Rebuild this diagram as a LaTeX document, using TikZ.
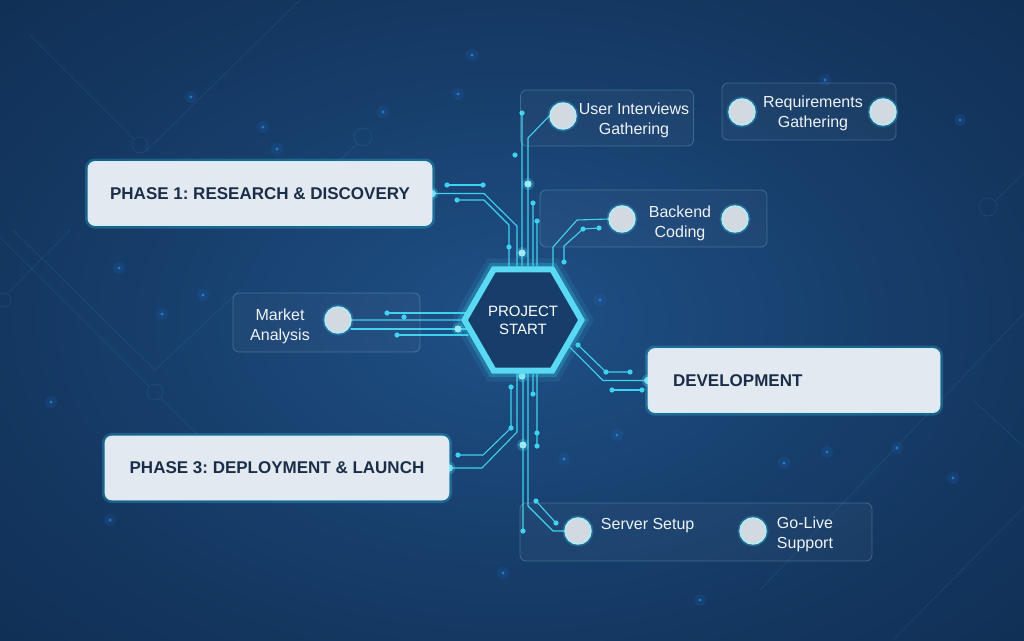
\documentclass[tikz,border=0pt]{standalone}
\usepackage{fontspec}
\setmainfont{Liberation Sans}
\usetikzlibrary{shapes.geometric, positioning, calc}

\definecolor{bgin}{HTML}{1F5086}
\definecolor{bgmid}{HTML}{143862}
\definecolor{bgout}{HTML}{0A1D38}
\definecolor{neon}{HTML}{3DD2F0}
\definecolor{cardfill}{HTML}{E3E9F0}
\definecolor{cardtext}{HTML}{1B2E49}
\definecolor{knobfill}{HTML}{D3D9E0}
\definecolor{softtext}{HTML}{EEF3F8}

\pgfdeclareradialshading{bgglow}{\pgfpoint{0bp}{0bp}}{color(0bp)=(bgin); color(22bp)=(bgmid); color(55bp)=(bgout); color(80bp)=(bgout)}
\pgfdeclarelayer{back}
\pgfdeclarelayer{wires}
\pgfsetlayers{back,wires,main}
\frenchspacing

\begin{document}
\begin{tikzpicture}[
    x=1pt, y=-1pt,
    wire/.style={draw=neon, line width=1.1pt, line cap=round, line join=round},
    ghost/.style={draw=neon!50!bgin, line width=0.8pt, opacity=0.18},
    hexa/.style={regular polygon, regular polygon sides=6, minimum size=117pt, inner sep=0pt,
        draw=neon!85!white, line width=6pt, fill=bgmid!75!bgin, text=white, align=center,
        font=\fontsize{15}{18}\selectfont,
        preaction={draw=neon, line width=22pt, draw opacity=0.10},
        preaction={draw=neon, line width=13pt, draw opacity=0.25}},
    phasebox/.style={rectangle, rounded corners=7pt, fill=cardfill, draw=white!70!neon, line width=0.8pt,
        minimum height=64pt, inner xsep=0pt, text=cardtext,
        font=\bfseries\fontsize{17}{20}\selectfont,
        preaction={draw=neon, line width=6pt, draw opacity=0.25}},
    groupbox/.style={rectangle, rounded corners=6pt, draw=neon!40!white, draw opacity=0.25,
        line width=0.8pt, fill=white, fill opacity=0.03, inner sep=0pt},
    knob/.style={circle, minimum size=26pt, inner sep=0pt, fill=knobfill, draw=white!60!neon, line width=1.5pt,
        preaction={draw=neon, line width=5pt, draw opacity=0.25}},
    caption/.style={text=softtext, font=\fontsize{16}{20}\selectfont, align=center, inner sep=0pt}
]
\useasboundingbox (0,0) rectangle (1024,640);

% Backdrop
\begin{pgfonlayer}{back}
\clip (0,0) rectangle (1024,640);
\fill[bgout] (0,0) rectangle (1024,640);
\shade[shading=bgglow] (-40,-40) rectangle (1064,680);
\draw[ghost] (0,237) -- (149,386);
\draw[ghost] (155,392) circle (8pt);
\draw[ghost] (161,398) -- (205,442);
\draw[ghost] (13,230) -- (155,370) -- (240,290);
\draw[ghost] (70,230) -- (9,292);
\draw[ghost] (4,300) circle (7pt);
\draw[ghost] (30,35) -- (134,139);
\draw[ghost] (140,145) circle (8pt);
\draw[ghost] (300,0) -- (146,151);
\draw[ghost] (363,137) circle (9pt);
\draw[ghost] (357,144) -- (338,162);
\draw[ghost] (988,207) circle (9pt);
\draw[ghost] (995,201) -- (1024,173);
\draw[ghost] (1024,313) -- (760,590);
\draw[ghost] (1024,507) -- (893,640);
\draw[ghost] (973,400) -- (1024,447);
\foreach \sx/\sy in {119/268, 162/314, 203/295, 51/402, 191/97, 472/55, 458/94, 383/112,
                     263/127, 277/149, 827/452, 897/448, 953/478, 784/463, 564/459, 617/435,
                     503/573, 825/80, 600/300, 960/120, 110/520, 700/600}{
    \fill[neon!60!blue, opacity=0.12] (\sx,\sy) circle (6pt);
    \fill[neon!80!blue, opacity=0.55] (\sx,\sy) circle (1.6pt);
}
\end{pgfonlayer}

% Centre hexagon
\node[hexa] (start) at (523,320) {PROJECT\\START};

% Phase cards
\node[phasebox, minimum width=344pt] (p1) at (260,193.5) {PHASE 1: RESEARCH \& DISCOVERY};
\node[phasebox, minimum width=344pt] (p3) at (277,468) {PHASE 3: DEPLOYMENT \& LAUNCH};
\node[phasebox, text width=242pt, align=left, inner xsep=25pt] (dev) at (794,380.5) {DEVELOPMENT};

% Task frames
\node[groupbox, minimum width=173pt, minimum height=56pt] (g-ui) at (607,118) {};
\node[groupbox, minimum width=174pt, minimum height=57pt] (g-rq) at (809,111.5) {};
\node[groupbox, minimum width=227pt, minimum height=57pt] (g-be) at (653.5,218.5) {};
\node[groupbox, minimum width=187pt, minimum height=59pt] (g-ma) at (326.5,322.5) {};
\node[groupbox, minimum width=352pt, minimum height=58pt] (g-ss) at (696,532) {};

% Task knobs and captions
\node[knob] (c-ui) at (563,116) {};
\node[caption] (t-ui) at (634,120) {User Interviews\\Gathering};
\node[knob] (c-rq1) at (742,112) {};
\node[knob] (c-rq2) at (883,112) {};
\node[caption] (t-rq) at (813,113) {Requirements\\Gathering};
\node[knob] (c-be1) at (622,219) {};
\node[knob] (c-be2) at (735,219) {};
\node[caption] (t-be) at (680,223) {Backend\\Coding};
\node[knob] (c-ma) at (338,320) {};
\node[caption] (t-ma) at (280,326) {Market\\Analysis};
\node[knob] (c-ss) at (578,531) {};
\node[caption, right=9pt of c-ss, yshift=5pt] (t-ss) {Server Setup};
\node[knob] (c-gl) at (753,531) {};
\node[caption, align=left, right=10pt of c-gl, yshift=-3pt] (t-gl) {Go-Live\\Support};

% Circuit traces
\begin{pgfonlayer}{wires}
% research side
\draw[wire] (p1.east) -- (484,193.5) -- (517,226) -- ([xshift=-6pt]start.north);
\draw[wire] (457,200) -- (484,200) -- (509,225) -- ([xshift=-14pt]start.north);
\draw[wire] (447,185) -- (483,185);
\draw[wire] ([xshift=-1pt]start.north) -- (522,113);
\draw[wire] ([xshift=5pt]start.north) -- (528,138) -- (c-ui.west);
\draw[wire] ([xshift=10pt]start.north) -- (533,203);
\draw[wire] ([xshift=14pt]start.north) -- (537,221);
\draw[wire] ([xshift=30pt]start.north) -- (553,247) -- (577,220) -- (c-be1.west);
\draw[wire] (564,262) -- (564,246) -- (583,229) -- (599,228);
% market side
\draw[wire] (c-ma.east) -- (start.west);
\draw[wire] (387,313) -- (468,313);
\draw[wire] (351,329) -- (468,329);
\draw[wire] (397,335) -- (468,335);
% development side
\draw[wire] (start.-30) -- (603,380.5) -- (dev.west);
\draw[wire] (578,345) -- (606,372) -- (630,372);
\draw[wire] (612,390) -- (642,390);
% launch side
\draw[wire] ([xshift=-6pt]start.south) -- (517,432) -- (482,468) -- (p3.east);
\draw[wire] (511,387) -- (511,428) -- (483,455) -- (458,455);
\draw[wire] (start.south) -- (523,531);
\draw[wire] ([xshift=5pt]start.south) -- (528,506) -- (553,531) -- (c-ss.west);
\draw[wire] (536,501) -- (556,523);
\draw[wire] ([xshift=10pt]start.south) -- (533,394);
\draw[wire] ([xshift=14pt]start.south) -- (537,446);
% solder pads
\foreach \px/\py in {447/185, 483/185, 457/200, 509/247, 515/155, 522/113, 533/203, 537/221,
                     564/262, 583/229, 599/228, 387/313, 404/317, 397/335, 578/345, 606/372,
                     630/372, 612/390, 642/390, 511/387, 511/428, 458/455, 533/394, 537/433,
                     537/446, 523/531, 536/501, 556/523}{
    \fill[neon] (\px,\py) circle (2.6pt);
}
\foreach \px/\py in {528/184, 522/253, 458/329, 523/445, 522/376}{
    \fill[neon, opacity=0.3] (\px,\py) circle (6pt);
    \fill[neon!50!white] (\px,\py) circle (3.6pt);
}
\foreach \anc in {p1.east, p3.east, dev.west}{
    \fill[neon, opacity=0.3] (\anc) circle (6pt);
    \fill[neon!60!white] (\anc) circle (3.6pt);
}
\end{pgfonlayer}

\end{tikzpicture}
\end{document}
